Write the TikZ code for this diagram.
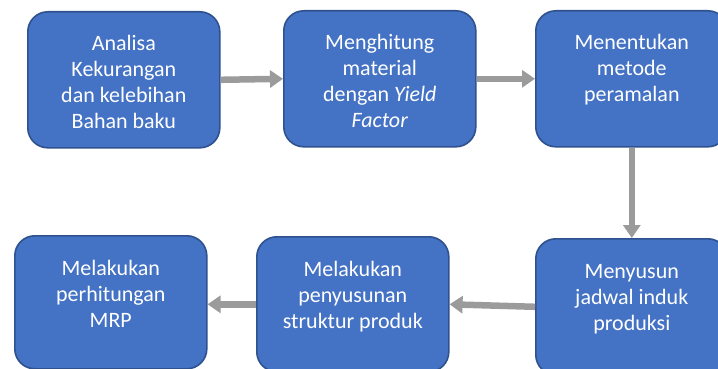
\documentclass[tikz,border=0pt]{standalone}
\usepackage{fontspec}
\setmainfont{Carlito}
\usetikzlibrary{arrows.meta}

\definecolor{boxblue}{HTML}{4472C4}
\definecolor{boxedge}{HTML}{2F528F}
\definecolor{flowgray}{HTML}{9B9B9B}

% text of one stage, set from the top of the box
\newcommand{\stagetext}[2][136pt]{%
  \begin{minipage}[t][#1][t]{192pt}\centering
    \vspace*{21pt}\strut#2
  \end{minipage}}

\tikzset{
  stage/.style={draw=boxedge, fill=boxblue, line width=1.6pt, rounded corners=20pt,
    text=white, inner sep=0pt, anchor=north west, font=\fontsize{22}{26}\selectfont},
  flow/.style={flowgray, line width=6.5pt, -{Triangle[length=13pt,width=17pt]}}
}

\begin{document}
\begin{tikzpicture}[x=1pt, y=-1pt]
    \useasboundingbox (0,0) rectangle (718,369);
    \clip (0,0) rectangle (718,369);
    % top row
    \node[stage] (analisa) at (27,11) {\stagetext{Analisa\\Kekurangan\\dan kelebihan\\Bahan baku}};
    \node[stage] (hitung) at (283,10) {\stagetext{Menghitung\\material\\dengan \textit{Yield}\\\textit{Factor}}};
    \node[stage] (metode) at (535,10) {\stagetext{Menentukan\\metode\\peramalan}};
    % bottom row
    \node[stage] (jadwal) at (535,238) {\stagetext{Menyusun\\jadwal induk\\produksi}};
    \node[stage] (struktur) at (256,236) {\stagetext[135pt]{Melakukan\\penyusunan\\struktur produk}};
    \node[stage] (mrp) at (14,235) {\stagetext[133pt]{Melakukan\\perhitungan\\MRP}};
    % arrows
    \draw[flow] (analisa.east) -- (hitung.west);
    \draw[flow] (hitung.east) -- (metode.west);
    \draw[flow] (metode.south) -- (jadwal.north);
    \draw[flow] (jadwal.west) -- (struktur.east);
    \draw[flow] (struktur.west) -- (struktur.west -| mrp.east);
\end{tikzpicture}
\end{document}
